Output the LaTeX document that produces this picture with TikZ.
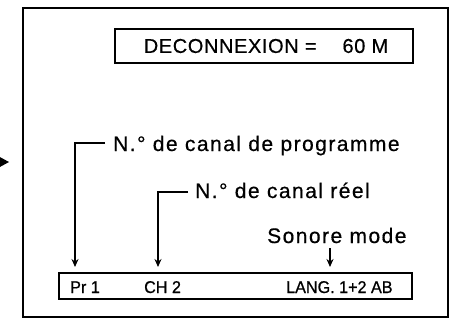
\documentclass[tikz,border=0pt]{standalone}
\usepackage{fontspec}
\setmainfont{Liberation Sans}
\newfontfamily\spacedfont[LetterSpace=7, FakeBold=0.5]{Liberation Sans}
\newfontfamily\capsfont[LetterSpace=3, FakeBold=0.5]{Liberation Sans}
\newfontfamily\osdfont[FakeBold=0.7, FakeStretch=0.95]{Liberation Sans}
\usetikzlibrary{arrows.meta}

\begin{document}
\begin{tikzpicture}[
        x=1pt, y=-1pt,
        frame/.style={draw=black, line width=1.8pt},
        screenbox/.style={rectangle, draw=black, line width=1.4pt, inner sep=0pt},
        callout/.style={anchor=base west, inner sep=0pt, font=\spacedfont\fontsize{21}{24}\selectfont},
        osd/.style={anchor=base west, inner sep=0pt, font=\osdfont\fontsize{17}{18}\selectfont},
        pointer/.style={line width=1.5pt, -{Stealth[length=8pt, width=7pt]}}
    ]

    \useasboundingbox (0,0) rectangle (450,321);

    % Screen
    \draw[frame] (23,8) rectangle (448,317);
    \fill (-2,156) -- (9,162) -- (-2,168) -- cycle;

    % Nodes
    \node (timer) [screenbox, minimum width=298pt, minimum height=34pt, font=\capsfont\fontsize{20}{22}\selectfont] at (264,46) {\hspace{4pt}DECONNEXION =\hspace{26pt}60 M};
    \node (bar) [screenbox, minimum width=353pt, minimum height=26pt] at (235.5,286) {};
    \node (pr) [osd] at (70,293) {Pr 1};
    \node (ch) [osd] at (144,293) {CH 2};
    \node (lang) [osd] at (286,293) {LANG. 1+2 AB};
    \node (prog) [callout] at (113,151) {N.° de canal de programme};
    \node (reel) [callout] at (195,198) {N.° de canal réel};
    \node (sound) [callout] at (267,243) {Sonore mode};

    % Arrows
    \coordinate (prtip) at (75,267);
    \coordinate (chtip) at (158,267);
    \coordinate (sndtip) at (330,267);
    \draw[pointer] (prog.base west) ++(-8,-8) -| (prtip);
    \draw[pointer] (reel.base west) ++(-7,-6) -| (chtip);
    \draw[pointer] (sound.base -| sndtip) ++(0,5) -- (sndtip);

\end{tikzpicture}
\end{document}
